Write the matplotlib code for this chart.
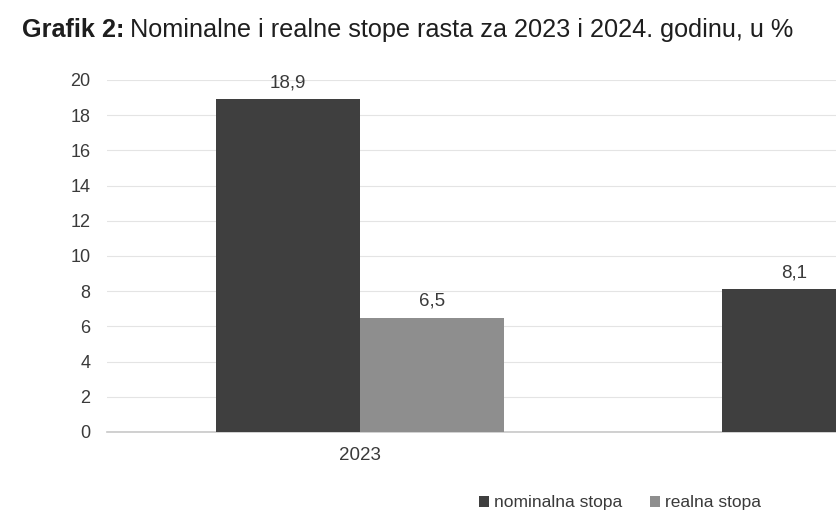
import matplotlib.pyplot as plt
import numpy as np

# data
years = ["2023", "2024"]
nominal = [18.9, 8.1]
real = [6.5, 3.4]  # 2024 real bar is cut off in the source image
y_ticks = [0, 2, 4, 6, 8, 10, 12, 14, 16, 18, 20]

plt.rcParams["font.family"] = ["Liberation Sans", "DejaVu Sans"]

W, H = 836, 518
fig = plt.figure(figsize=(W / 100, H / 100), dpi=100)

# axes extends beyond the right edge (the source chart is cropped)
left, right = 107, 1119
bottom, top = 432, 80
ax = fig.add_axes([left / W, (H - bottom) / H, (right - left) / W, (bottom - top) / H])

x = np.arange(len(years))
bw = 144 / 506
c_nom = "#3f3f3f"
c_real = "#8e8e8e"
txt_c = "#3a3a3a"
fs = 13.5
b1 = ax.bar(x - bw / 2, nominal, bw, color=c_nom, label="nominalna stopa", zorder=3)
b2 = ax.bar(x + bw / 2, real, bw, color=c_real, label="realna stopa", zorder=3)

labels = []
for bars in (b1, b2):
    for r in bars:
        v = r.get_height()
        a = ax.annotate(f"{v:.1f}".replace(".", ","),
                        (r.get_x() + r.get_width() / 2, v),
                        xytext=(0, 6), textcoords="offset points",
                        ha="center", va="bottom", fontsize=fs, color=txt_c)
        labels.append(a)

ax.set_xlim(-0.5, len(years) - 0.5)
ax.set_ylim(0, 20)
ax.set_yticks(y_ticks)
ax.set_yticklabels([str(t) for t in y_ticks])
ax.set_xticks(x)
ax.set_xticklabels(years)
ax.tick_params(axis="both", length=0, labelcolor=txt_c)
ax.tick_params(axis="y", pad=12, labelsize=13)
ax.tick_params(axis="x", pad=11, labelsize=fs)
ax.grid(axis="y", color="#e4e4e4", lw=0.8, zorder=0)
for s in ("left", "right", "top"):
    ax.spines[s].set_visible(False)
ax.spines["bottom"].set_color("#c8c8c8")
ax.spines["bottom"].set_linewidth(1.2)

# title: bold prefix + regular text
t1 = fig.text(22 / W, 1 - 30 / H, "Grafik 2:", fontsize=18.2, fontweight="bold",
              va="center", ha="left", color="#1e1e1e")
fig.canvas.draw()
ext = t1.get_window_extent()
fig.text((ext.x1 + 6) / W, 1 - 30 / H, "Nominalne i realne stope rasta za 2023 i 2024. godinu, u %",
         fontsize=18.2, va="center", ha="left", color="#1e1e1e")

# hide texts that fall outside the cropped figure
for t in labels + ax.get_xticklabels():
    if t.get_window_extent().x0 > W - 30:
        t.set_visible(False)

fig.legend(handles=[b1, b2], loc="center", bbox_to_anchor=(620 / W, 1 - 503 / H),
           ncol=2, frameon=False, fontsize=12.5, handlelength=0.55, handleheight=0.55,
           handletextpad=0.3, columnspacing=1.6, labelcolor=txt_c)

fig.savefig("out.png", dpi=100)
